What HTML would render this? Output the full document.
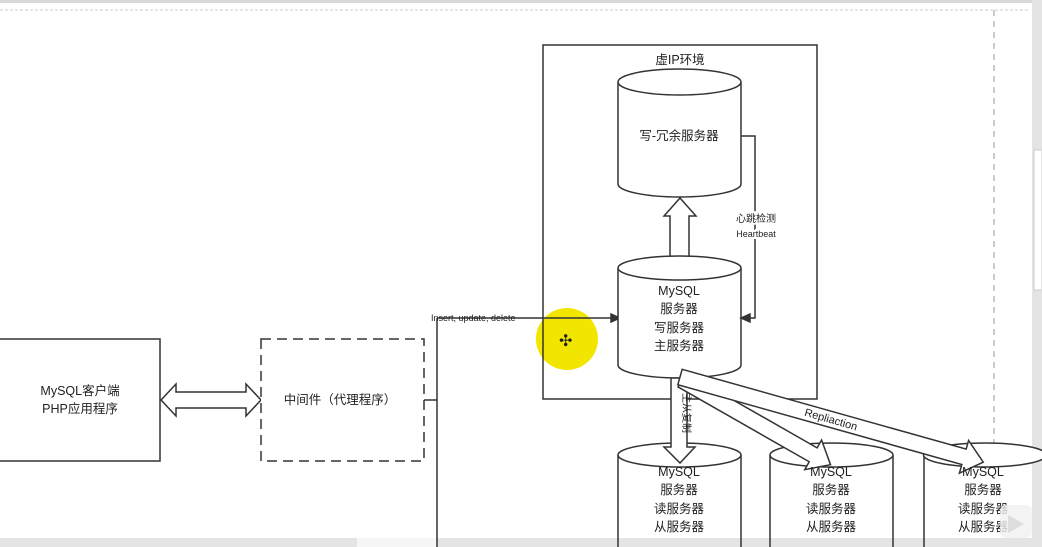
<!DOCTYPE html>
<html><head><meta charset="utf-8"><style>
html,body{margin:0;padding:0;background:#fff;}
svg{display:block;}
text{font-family:"Liberation Sans","Noto Sans CJK SC",sans-serif;fill:#222;}
</style></head><body>
<svg width="1042" height="547" viewBox="0 0 1042 547" xmlns="http://www.w3.org/2000/svg">
<rect width="1042" height="547" fill="#fff"/>
<rect x="0" y="0" width="1042" height="3" fill="#d8d8d8"/>
<line x1="0" y1="10" x2="1030" y2="10" stroke="#e6e6e6" stroke-width="2" stroke-dasharray="3,2"/>
<rect x="1032" y="0" width="10" height="547" fill="#e4e4e4"/>
<rect x="1034" y="150" width="8" height="140" fill="#fff" stroke="#ccc"/>
<rect x="0" y="538" width="1042" height="9" fill="#e4e4e4"/>
<rect x="357" y="538" width="80" height="9" fill="#f6f6f6"/>
<line x1="994" y1="10" x2="994" y2="450" stroke="#bbb" stroke-width="1.5" stroke-dasharray="6,5"/>

<!-- cursor highlight -->
<circle cx="567" cy="339" r="31" fill="#f2e600"/>

<g stroke="#333" stroke-width="1.5" fill="#fff">
<rect x="-2" y="339" width="162" height="122"/>
<polygon points="161,400 176,384 176,392 246,392 246,384 261,400 246,416 246,408 176,408 176,416"/>
<rect x="261" y="339" width="163" height="122" stroke-dasharray="10,6"/>
<polyline points="424,400 437,400" fill="none"/>
<line x1="437" y1="318" x2="437" y2="547"/>
<line x1="437" y1="318" x2="612" y2="318"/>
<polygon points="620,318 611,314 611,322" fill="#333"/>
<rect x="543" y="45" width="274" height="354" fill="none"/>
<path d="M618,82 L618,184 A61.5,13 0 0 0 741,184 L741,82"/>
<ellipse cx="679.5" cy="82" rx="61.5" ry="13"/>
<polygon points="670,258 670,216 664,216 680,198 696,216 689,216 689,258"/>
<path d="M618,268 L618,365 A61.5,13 0 0 0 741,365 L741,268"/>
<ellipse cx="679.5" cy="268" rx="61.5" ry="12"/>
<polyline points="741,136 755,136 755,318 749,318" fill="none"/>
<polygon points="741,318 750,314 750,322" fill="#333"/>
<path d="M618,455 L618,547 M741,547 L741,455"/>
<ellipse cx="679.5" cy="455" rx="61.5" ry="12"/>
<path d="M770,455 L770,547 M893,547 L893,455"/>
<ellipse cx="831.5" cy="455" rx="61.5" ry="12"/>
<path d="M924,455 L924,547"/>
<ellipse cx="985" cy="455" rx="61.5" ry="12"/>
<polygon points="671,378 687,378 687,447 695,447 680,463 664,447 671,447"/>
<g transform="translate(682,380) rotate(29.7)"><polygon points="0,-8 151,-8 151,-17 171,0 151,17 151,8 0,8"/></g>
<g transform="translate(680,377) rotate(15.7)"><polygon points="0,-8 295,-8 295,-17 315,0 295,17 295,8 0,8"/></g>
</g>
<text x="559" y="346" font-size="16" fill="#222">✣</text>

<g font-size="12.5" text-anchor="middle">
<text x="80" y="395">MySQL客户端</text>
<text x="80" y="413">PHP应用程序</text>
<text x="340" y="404">中间件（代理程序）</text>
<text x="680" y="64">虚IP环境</text>
<text x="679" y="140">写-冗余服务器</text>
<text x="679" y="295">MySQL</text>
<text x="679" y="313">服务器</text>
<text x="679" y="332">写服务器</text>
<text x="679" y="350">主服务器</text>
<text x="679" y="476">MySQL</text>
<text x="679" y="494">服务器</text>
<text x="679" y="513">读服务器</text>
<text x="679" y="531">从服务器</text>
<text x="831" y="476">MySQL</text>
<text x="831" y="494">服务器</text>
<text x="831" y="513">读服务器</text>
<text x="831" y="531">从服务器</text>
<text x="983" y="476">MySQL</text>
<text x="983" y="494">服务器</text>
<text x="983" y="513">读服务器</text>
<text x="983" y="531">从服务器</text>
</g>
<text x="431" y="321" font-size="9">Insert, update, delete</text>
<text x="756" y="222" font-size="10" text-anchor="middle" style="paint-order:stroke" stroke="#fff" stroke-width="4">心跳检测</text>
<text x="756" y="237" font-size="9" text-anchor="middle" style="paint-order:stroke" stroke="#fff" stroke-width="4">Heartbeat</text>
<text transform="translate(683,413) rotate(90)" font-size="10" text-anchor="middle">主从复制</text>
<text transform="translate(830,423) rotate(16)" font-size="11" text-anchor="middle">Repliaction</text>
<rect x="1000" y="505" width="32" height="33" rx="6" fill="#f0f0f0" opacity="0.8"/>
<polygon points="1008,515 1024,524 1008,533" fill="#ddd"/>
</svg>
</body></html>
